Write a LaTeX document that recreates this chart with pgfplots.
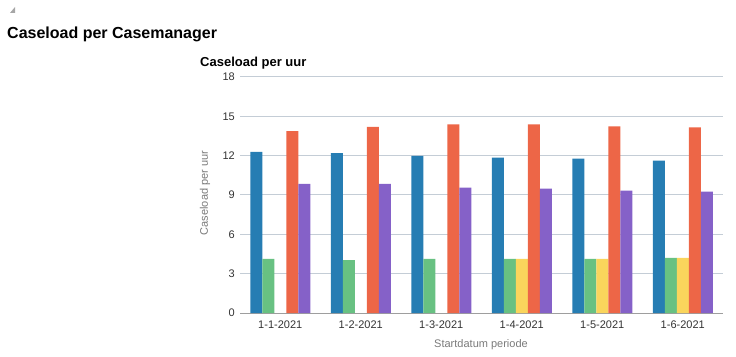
\documentclass[border=0pt]{standalone}
\usepackage{pgfplots}
\pgfplotsset{compat=1.18}
\usepackage{fontspec}
\setmainfont{Liberation Sans}
\definecolor{cblue}{HTML}{267DB3}
\definecolor{cgreen}{HTML}{68C182}
\definecolor{cyellow}{HTML}{FAD55C}
\definecolor{corange}{HTML}{ED6647}
\definecolor{cpurple}{HTML}{8561C8}
\definecolor{gridc}{HTML}{C4CDD6}
\definecolor{axisc}{HTML}{9E9E9E}
\definecolor{tickc}{HTML}{333333}
\definecolor{labc}{HTML}{7A7A7A}
\begin{document}
\begin{tikzpicture}[x=1pt,y=1pt]
\path[use as bounding box] (0,0) rectangle (736,356);
% small triangle icon
\fill[gray!70] (10,343) -- (15,343) -- (15,349) -- cycle;
\node[anchor=base west, inner sep=0pt] at (7,317) {\fontsize{16}{19}\selectfont\bfseries Caseload per Casemanager};
\node[anchor=base west, inner sep=0pt] at (200,289) {\fontsize{13}{16}\selectfont\bfseries Caseload per uur};
\begin{axis}[
  at={(240pt,43pt)}, anchor=south west,
  scale only axis, width=483pt, height=236pt,
  xmin=-0.5, xmax=5.5, ymin=0, ymax=18,
  ytick={0,3,...,18},
  xtick={0,1,2,3,4,5},
  xticklabels={1-1-2021,1-2-2021,1-3-2021,1-4-2021,1-5-2021,1-6-2021},
  axis x line*=bottom, axis y line*=left,
  x axis line style={draw=axisc, line width=1pt, -},
  y axis line style={draw=none},
  major tick length=0pt,
  ymajorgrids, grid style={draw=gridc, line width=1pt},
  tick label style={font=\fontsize{11}{13}\selectfont, text=tickc},
  /pgf/number format/assume math mode=true,
  yticklabel style={anchor=east, inner sep=0pt, xshift=-5pt},
  xticklabel style={anchor=north, inner sep=0pt, yshift=-8pt},
  ybar, bar width=12pt,
  every axis plot/.append style={draw=none},
  clip=false,
]
\addplot[fill=cblue, bar shift=-24pt] coordinates {(0,12.28) (1,12.2) (2,11.98) (3,11.85) (4,11.77) (5,11.62)};
\addplot[fill=cgreen, bar shift=-12pt] coordinates {(0,4.12) (1,4.04) (2,4.12) (3,4.12) (4,4.12) (5,4.2)};
\addplot[fill=cyellow, bar shift=0pt] coordinates {(3,4.12) (4,4.12) (5,4.2)};
\addplot[fill=corange, bar shift=12pt] coordinates {(0,13.88) (1,14.19) (2,14.38) (3,14.38) (4,14.23) (5,14.16)};
\addplot[fill=cpurple, bar shift=24pt] coordinates {(0,9.84) (1,9.84) (2,9.56) (3,9.48) (4,9.33) (5,9.25)};
\end{axis}
\node[rotate=90, text=labc, inner sep=0pt] at (205,163) {\fontsize{11}{13}\selectfont Caseload per uur};
\node[text=labc, inner sep=0pt] at (481,11) {\fontsize{11}{13}\selectfont Startdatum periode};
\end{tikzpicture}
\end{document}
